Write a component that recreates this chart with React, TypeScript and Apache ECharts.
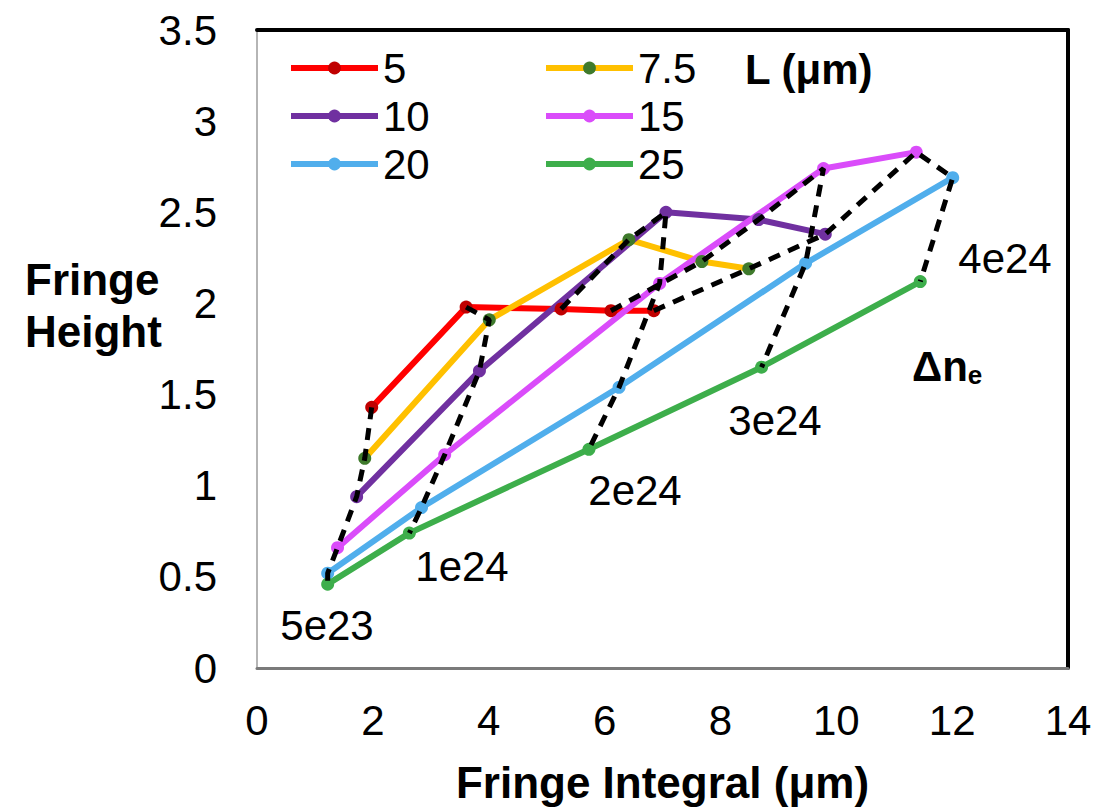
import React, { useEffect, useRef } from 'react';
import * as echarts from 'echarts';

// Plasma length L (μm) for each curve, and electron-density steps Δn_e along each curve
const lengths = ['5', '7.5', '10', '15', '20', '25'];
const densities = ['5e23', '1e24', '2e24', '3e24', '4e24'];

// Fringe integral (μm) and fringe height for each length, one point per density step
const integral5 = [1.98, 3.61, 5.25, 6.11, 6.85];
const height5 = [1.43, 1.98, 1.97, 1.96, 1.96];
const integral7_5 = [1.86, 4.01, 6.42, 7.68, 8.49];
const height7_5 = [1.15, 1.91, 2.35, 2.23, 2.19];
const integral10 = [1.72, 3.84, 7.06, 8.66, 9.81];
const height10 = [0.94, 1.63, 2.5, 2.46, 2.38];
const integral15 = [1.39, 3.24, 6.95, 9.78, 11.38];
const height15 = [0.66, 1.17, 2.11, 2.74, 2.83];
const integral20 = [1.22, 2.84, 6.25, 9.47, 12.01];
const height20 = [0.52, 0.88, 1.54, 2.22, 2.69];
const integral25 = [1.22, 2.63, 5.73, 8.71, 11.45];
const height25 = [0.46, 0.74, 1.2, 1.65, 2.12];

// Axis ranges
const xMin = 0, xMax = 14, xStep = 2;
const yMin = 0, yMax = 3.5, yStep = 0.5;

const integrals = [integral5, integral7_5, integral10, integral15, integral20, integral25];
const heights = [height5, height7_5, height10, height15, height20, height25];

const lineColors = ['#FF0000', '#FFC000', '#7030A0', '#DA4CFA', '#50AEEC', '#3DAE4B'];
const markerColors = ['#C00000', '#3F7A2C', '#7030A0', '#DA4CFA', '#50AEEC', '#3DAE4B'];

const FONT = '"Liberation Sans", Arial, Helvetica, sans-serif';

function buildOption(): echarts.EChartsOption {
  const curveSeries = lengths.map((name, i) => ({
    name,
    type: 'line' as const,
    data: integrals[i].map((x, k) => [x, heights[i][k]]),
    symbol: 'circle',
    symbolSize: 13,
    lineStyle: { color: lineColors[i], width: 6 },
    itemStyle: { color: markerColors[i] },
    z: 2,
  }));

  // Constant-density contours join the k-th point of every curve
  const contourSeries = densities.map((d, k) => ({
    name: 'Δne ' + d,
    type: 'line' as const,
    data: lengths.map((_, i) => [integrals[i][k], heights[i][k]]),
    symbol: 'none',
    silent: true,
    lineStyle: { color: '#000', width: 5, type: [12, 9] as number[] },
    z: 4,
  }));

  const tickLabel = { fontSize: 42, color: '#000', fontFamily: FONT };
  const annot = (text: string, x: number, y: number) => ({
    type: 'text' as const,
    x,
    y,
    style: { text, font: `42px ${FONT}`, fill: '#000', textAlign: 'center', textVerticalAlign: 'middle' },
  });

  const legendBase = {
    orient: 'vertical' as const,
    top: 47,
    padding: 0,
    itemWidth: 87,
    itemHeight: 16,
    itemGap: 6,
    selectedMode: false,
    lineStyle: { width: 6 },
    textStyle: { fontSize: 42, color: '#000', fontFamily: FONT },
  };

  return {
    animation: false,
    backgroundColor: '#fff',
    grid: { left: 257, right: 44, top: 30, bottom: 141, containLabel: false, outerBoundsMode: 'none' },
    xAxis: [
      {
        type: 'value',
        min: xMin,
        max: xMax,
        interval: xStep,
        position: 'bottom',
        axisLine: { show: true, lineStyle: { color: '#7a7a7a', width: 3 } },
        axisTick: { show: false },
        splitLine: { show: false },
        axisLabel: { ...tickLabel, margin: 31 },
        name: 'Fringe Integral (μm)',
        nameLocation: 'middle',
        nameGap: 92,
        nameTextStyle: { fontSize: 44, fontWeight: 'bold', color: '#000', fontFamily: FONT },
      },
      {
        type: 'value',
        min: xMin,
        max: xMax,
        interval: xStep,
        position: 'top',
        axisLine: { show: true, onZero: false, lineStyle: { color: '#000', width: 4 } },
        axisTick: { show: false },
        axisLabel: { show: false },
        splitLine: { show: false },
      },
    ],
    yAxis: [
      {
        type: 'value',
        min: yMin,
        max: yMax,
        interval: yStep,
        position: 'left',
        axisLine: { show: true, lineStyle: { color: '#b5b5b5', width: 2 } },
        axisTick: { show: false },
        splitLine: { show: false },
        axisLabel: { ...tickLabel, margin: 40 },
      },
      {
        type: 'value',
        min: yMin,
        max: yMax,
        interval: yStep,
        position: 'right',
        axisLine: { show: true, onZero: false, lineStyle: { color: '#000', width: 4 } },
        axisTick: { show: false },
        axisLabel: { show: false },
        splitLine: { show: false },
      },
    ],
    legend: [
      { ...legendBase, data: ['5', '10', '20'], left: 288 },
      { ...legendBase, data: ['7.5', '15', '25'], left: 543 },
    ],
    graphic: [
      {
        type: 'text',
        x: 745,
        y: 69,
        style: { text: 'L (μm)', font: `bold 42px ${FONT}`, fill: '#000', textAlign: 'left', textVerticalAlign: 'middle' },
      },
      {
        type: 'text',
        x: 25,
        y: 305,
        style: {
          text: 'Fringe\nHeight',
          font: `bold 44px ${FONT}`,
          lineHeight: 52,
          fill: '#000',
          textAlign: 'left',
          textVerticalAlign: 'middle',
        },
      },
      annot('5e23', 327, 625),
      annot('1e24', 462, 566),
      annot('2e24', 635, 490),
      annot('3e24', 775, 420),
      annot('4e24', 1005, 258),
      {
        type: 'text',
        x: 912,
        y: 366,
        style: {
          text: '{a|Δn}{b|e}',
          fill: '#000',
          textAlign: 'left',
          textVerticalAlign: 'middle',
          rich: {
            a: { fontSize: 42, fontWeight: 'bold', fontFamily: FONT, fill: '#000', color: '#000' },
            b: { fontSize: 26, fontWeight: 'bold', fontFamily: FONT, fill: '#000', color: '#000', padding: [18, 0, 0, 0] },
          },
        },
      },
    ],
    series: [...curveSeries, ...contourSeries],
  } as echarts.EChartsOption;
}

export default function App() {
  const ref = useRef<HTMLDivElement>(null);
  useEffect(() => {
    if (!ref.current) return;
    const chart = echarts.init(ref.current, null, { renderer: 'svg' });
    chart.setOption(buildOption());
    return () => chart.dispose();
  }, []);
  return (
    <div
      ref={ref}
      style={{ position: 'fixed', left: 0, top: 0, width: 1112, height: 809, background: '#fff' }}
    />
  );
}
